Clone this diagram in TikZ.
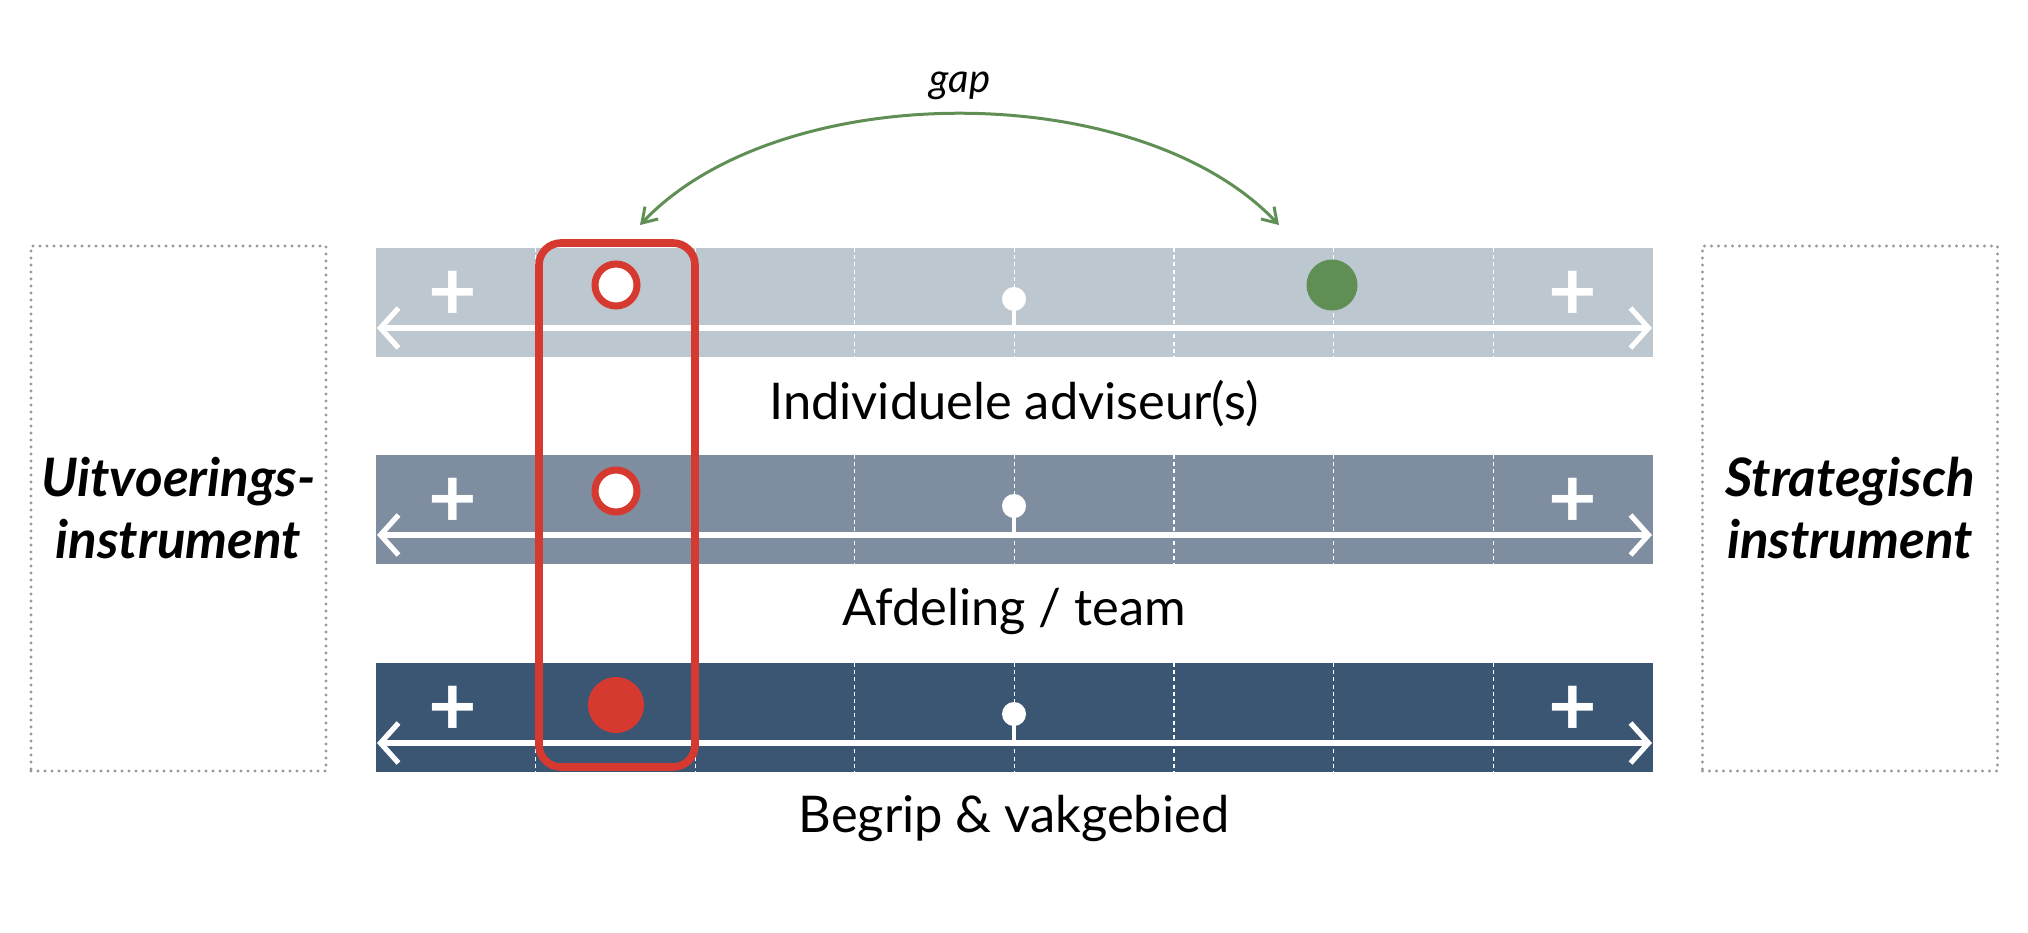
\documentclass[tikz,border=0pt]{standalone}
\usepackage{fontspec}
\setmainfont{Lato}
\usetikzlibrary{arrows.meta}
\definecolor{barlight}{HTML}{BDC7D0}
\definecolor{barmid}{HTML}{7E8DA0}
\definecolor{bardark}{HTML}{3B5673}
\definecolor{markred}{HTML}{D6392F}
\definecolor{markgreen}{HTML}{5F8F55}
\definecolor{dotgray}{HTML}{999999}
\begin{document}
\begin{tikzpicture}[x=0.5pt,y=-0.5pt,
    axis/.style={white,line width=3pt,
      {Straight Barb[length=9pt,width=20pt,line width=2.6pt]}-{Straight Barb[length=9pt,width=20pt,line width=2.6pt]}},
    divider/.style={white,line width=0.6pt,dash pattern=on 2pt off 1.6pt},
    plus/.style={white,inner sep=0pt,font=\fontsize{42}{42}\selectfont\bfseries},
    midmark/.style={circle,fill=white,inner sep=0pt,minimum size=12pt},
    stem/.style={white,line width=2pt},
    ring/.style={circle,draw=markred,fill=white,line width=3.5pt,inner sep=0pt,minimum size=21pt},
    reddot/.style={circle,fill=markred,inner sep=0pt,minimum size=28pt},
    greendot/.style={circle,fill=markgreen,inner sep=0pt,minimum size=25.5pt},
    redframe/.style={draw=markred,line width=3.8pt,rounded corners=11pt},
    gaparrow/.style={markgreen,line width=1.5pt,
      {Straight Barb[length=7pt,width=9pt]}-{Straight Barb[length=7pt,width=9pt]}},
    sidebox/.style={draw=dotgray,line width=1.6pt,line cap=round,dash pattern=on 0pt off 3.5pt,
      minimum width=147.5pt,minimum height=262.5pt,align=center,
      font=\fontsize{26.5}{31}\selectfont\bfseries\itshape},
    barlabel/.style={anchor=base,font=\fontsize{25.3}{25.3}\selectfont}]
  \useasboundingbox (0,0) rectangle (2028,932);
  % side boxes
  \node[sidebox] (uitv) at (178.5,508.5) {Uitvoerings-\\instrument};
  \node[sidebox] (strat) at (1850,508.5) {Strategisch\\instrument};
  % three bars with axis, dividers and ends
  \foreach \c/\t/\n in {barlight/248/1,barmid/455/2,bardark/663/3} {
    \fill[\c] (376,\t) rectangle (1653,\t+109);
    \foreach \k in {1,...,7}
      \draw[divider] (376+\k*159.6,\t) -- (376+\k*159.6,\t+109);
    \draw[axis] (377,\t+80) -- (1652,\t+80);
    \node[plus] (plusl\n) at (453,\t+48) {+};
    \node[plus] (plusr\n) at (1573,\t+48) {+};
    \node[midmark] (mid\n) at (1014,\t+51) {};
    \draw[stem] (mid\n.center) -- (1014,\t+80);
  }
  % bar labels
  \node[barlabel] (lbladv) at (1014,419) {Individuele adviseur(s)};
  \node[barlabel] (lblteam) at (1014,625) {Afdeling / team};
  \node[barlabel] (lblvak) at (1014,832) {Begrip \& vakgebied};
  % current position and goal
  \node[ring] (now1) at (616,285) {};
  \node[ring] (now2) at (616,491) {};
  \node[reddot] (now3) at (616,705) {};
  \node[greendot] (goal) at (1332,285) {};
  \draw[redframe] (539,243) rectangle (695,767);
  % gap arrow
  \coordinate (gapl) at (640,225);
  \coordinate (gapr) at (1279,225);
  \draw[gaparrow] (gapl) .. controls (780,77) and (1139,77) .. (gapr);
  \node[anchor=base,font=\fontsize{20}{20}\selectfont\itshape] (gaplbl) at (960,92) {gap};
\end{tikzpicture}
\end{document}
